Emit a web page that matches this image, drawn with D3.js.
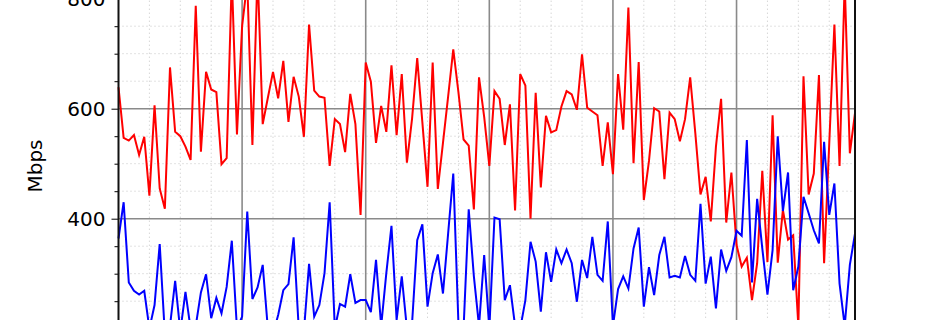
<!DOCTYPE html>
<html>
<head>
<meta charset="utf-8">
<script src="https://cdn.jsdelivr.net/npm/d3@7"></script>
<style>
    html, body { margin: 0; padding: 0; background: #fff; overflow: hidden; }
    svg { display: block; font-family: "DejaVu Sans", sans-serif; }
</style>
</head>
<body>
<svg id="chart"></svg>
<script>
// hourly samples, 6 days
const hours = d3.range(144);

const downloadMbps = [
    639, 547, 542, 552, 516, 549, 442, 606, 455, 418, 675, 558, 550, 531, 507, 787, 522, 667, 635, 630, 499, 510, 840, 553,
    750, 830, 534, 850, 572, 620, 667, 619, 687, 576, 658, 622, 549, 753, 633, 622, 620, 496, 581, 572, 521, 627, 572, 407,
    684, 649, 538, 605, 558, 679, 552, 663, 502, 582, 692, 575, 458, 684, 454, 538, 622, 708, 630, 544, 533, 417, 657, 585,
    496, 632, 618, 534, 608, 415, 663, 642, 400, 629, 457, 587, 557, 561, 604, 632, 626, 598, 699, 602, 595, 588, 496, 575,
    481, 663, 562, 784, 501, 685, 434, 505, 601, 595, 472, 593, 581, 541, 581, 657, 555, 444, 476, 395, 531, 618, 393, 484,
    352, 313, 329, 252, 319, 487, 321, 588, 320, 416, 362, 370, 205, 659, 444, 482, 661, 319, 537, 753, 496, 830, 519, 592
];

const uploadMbps = [
    364, 430, 284, 269, 262, 269, 200, 243, 354, 190, 205, 287, 195, 267, 200, 205, 266, 299, 219, 256, 228, 276, 360, 200,
    222, 413, 254, 275, 316, 200, 190, 225, 270, 281, 366, 200, 195, 318, 222, 243, 301, 430, 200, 245, 240, 299, 247, 252,
    252, 230, 325, 205, 301, 387, 216, 295, 200, 210, 361, 390, 240, 301, 335, 264, 373, 482, 210, 200, 417, 295, 205, 334,
    200, 402, 399, 252, 279, 205, 200, 252, 358, 322, 231, 339, 285, 344, 319, 344, 319, 249, 325, 292, 367, 298, 287, 395,
    205, 272, 295, 273, 346, 384, 240, 312, 261, 334, 367, 293, 296, 293, 332, 298, 287, 427, 282, 331, 237, 344, 305, 330,
    378, 369, 543, 284, 436, 346, 262, 343, 550, 414, 484, 270, 313, 440, 410, 379, 355, 540, 407, 464, 282, 205, 316, 373
];

const yMajorTicks = [0, 200, 400, 600, 800, 1000];
const yMinorTicks = d3.range(0, 1001, 50).filter(v => v % 200 !== 0);
const xMajorTicks = [24, 48, 72, 96, 120];
const xMinorTicks = d3.range(6, 143, 6).filter(v => v % 24 !== 0);

const width = 950, height = 320;
const plotLeft = 118.5, plotRight = 855;

const svg = d3.select("#chart")
    .attr("width", width)
    .attr("height", height);

const x = d3.scaleLinear()
    .domain([0, 143])
    .range([plotLeft, plotRight]);

// 400 -> 218.7, 800 -> -1.3 (figure is cropped at top and bottom)
const y = d3.scaleLinear()
    .domain([0, 1000])
    .range([438.7, -111.3]);

const yTop = y(1000), yBottom = y(0);

// minor dotted grid
svg.append("g")
    .selectAll("line")
    .data(yMinorTicks)
    .enter().append("line")
    .attr("x1", plotLeft).attr("x2", plotRight)
    .attr("y1", d => y(d)).attr("y2", d => y(d))
    .attr("stroke", "#c4c4c4")
    .attr("stroke-width", 1)
    .attr("stroke-dasharray", "1,3");

svg.append("g")
    .selectAll("line")
    .data(xMinorTicks)
    .enter().append("line")
    .attr("x1", d => x(d)).attr("x2", d => x(d))
    .attr("y1", yTop).attr("y2", yBottom)
    .attr("stroke", "#c4c4c4")
    .attr("stroke-width", 1)
    .attr("stroke-dasharray", "1,3");

// major solid grid
svg.append("g")
    .selectAll("line")
    .data(yMajorTicks)
    .enter().append("line")
    .attr("x1", plotLeft).attr("x2", plotRight)
    .attr("y1", d => y(d)).attr("y2", d => y(d))
    .attr("stroke", "#8a8a8a")
    .attr("stroke-width", 1.6);

svg.append("g")
    .selectAll("line")
    .data(xMajorTicks)
    .enter().append("line")
    .attr("x1", d => x(d)).attr("x2", d => x(d))
    .attr("y1", yTop).attr("y2", yBottom)
    .attr("stroke", "#8a8a8a")
    .attr("stroke-width", 1.6);

// series
const line = d3.line()
    .x((d, i) => x(hours[i]))
    .y(d => y(d));

svg.append("path")
    .datum(downloadMbps)
    .attr("fill", "none")
    .attr("stroke", "#ff0000")
    .attr("stroke-width", 2)
    .attr("stroke-linejoin", "miter")
    .attr("d", line);

svg.append("path")
    .datum(uploadMbps)
    .attr("fill", "none")
    .attr("stroke", "#0000ff")
    .attr("stroke-width", 2)
    .attr("stroke-linejoin", "miter")
    .attr("d", line);

// y axis, major + minor ticks outward
const yAxis = svg.append("g")
    .attr("transform", `translate(${plotLeft},0)`)
    .call(d3.axisLeft(y).tickValues(yMajorTicks).tickSize(7).tickPadding(6).tickFormat(d3.format("d")));
yAxis.select(".domain").remove();
yAxis.selectAll("text")
    .attr("font-size", "20px")
    .attr("font-family", "DejaVu Sans, sans-serif")
    .attr("fill", "#000");
yAxis.selectAll("line").attr("stroke", "#000").attr("stroke-width", 1);

svg.append("g")
    .attr("transform", `translate(${plotLeft},0)`)
    .call(d3.axisLeft(y).tickValues(yMinorTicks).tickSize(4).tickFormat(""))
    .call(g => g.select(".domain").remove())
    .selectAll("line").attr("stroke", "#000").attr("stroke-width", 1);

// frame
svg.append("line")
    .attr("x1", plotLeft).attr("x2", plotLeft)
    .attr("y1", yTop).attr("y2", yBottom)
    .attr("stroke", "#111").attr("stroke-width", 2);
svg.append("line")
    .attr("x1", plotRight).attr("x2", plotRight)
    .attr("y1", yTop).attr("y2", yBottom)
    .attr("stroke", "#111").attr("stroke-width", 2);

svg.append("text")
    .attr("transform", "translate(42,166) rotate(-90)")
    .attr("text-anchor", "middle")
    .attr("font-size", "20px")
    .attr("fill", "#000")
    .text("Mbps");
</script>
</body>
</html>
